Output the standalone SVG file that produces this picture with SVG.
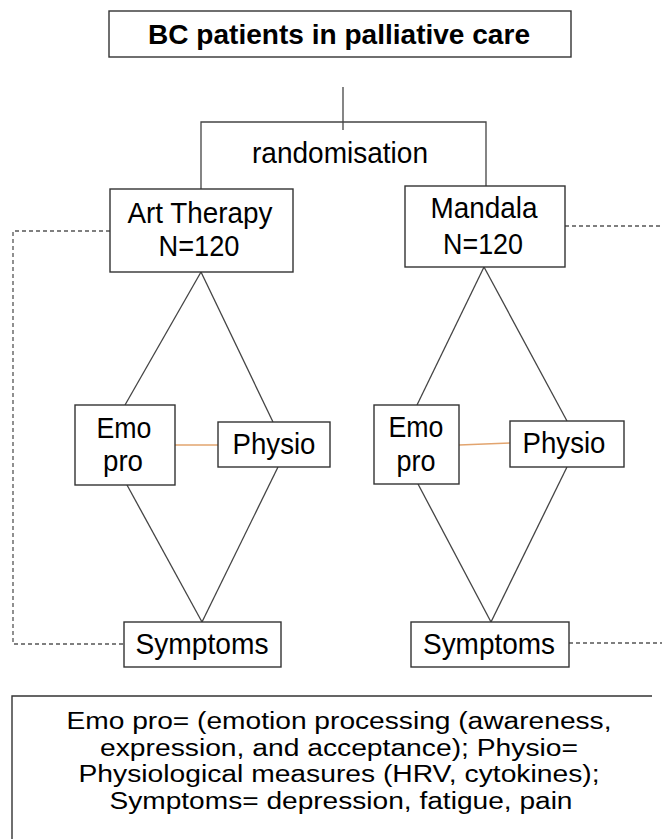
<svg xmlns="http://www.w3.org/2000/svg" width="662" height="839" viewBox="0 0 662 839">
<style>
.box{fill:#fff;stroke:#333;stroke-width:1.4}
.ln{stroke:#444;stroke-width:1.3;fill:none}
.dash{stroke:#555;stroke-width:1.3;fill:none;stroke-dasharray:4 3}
.or{stroke:#e2a46e;stroke-width:1.3;fill:none}
text{font-family:"Liberation Sans",Arial,sans-serif;font-size:29px;fill:#000;text-anchor:middle}
.t{font-weight:bold;font-size:28px}
.lg{font-size:23px}
</style>
<rect width="662" height="839" fill="#fff"/>
<g id="connectors">
<line class="ln" x1="343" y1="87" x2="343" y2="130"/>
<polyline class="ln" points="201,189 201,122 486,122 486,186"/>
<line class="ln" x1="201" y1="272" x2="125" y2="405"/>
<line class="ln" x1="201" y1="272" x2="273" y2="422"/>
<line class="ln" x1="127" y1="485" x2="202" y2="622"/>
<line class="ln" x1="278" y1="467" x2="202" y2="622"/>
<line class="or" x1="175" y1="445" x2="218" y2="445"/>
<line class="ln" x1="484" y1="267" x2="417" y2="405"/>
<line class="ln" x1="484" y1="267" x2="567" y2="421"/>
<line class="ln" x1="418" y1="484" x2="491" y2="622"/>
<line class="ln" x1="567" y1="467" x2="491" y2="622"/>
<line class="or" x1="459" y1="445" x2="510" y2="443"/>
<polyline class="dash" points="110,231 13,231 13,644 124,644"/>
<line class="dash" x1="565" y1="226" x2="662" y2="226"/>
<line class="dash" x1="569" y1="643" x2="662" y2="643"/>
</g>
<g id="title">
<rect class="box" x="109" y="11" width="462" height="46"/>
<text class="t" x="339" y="44" textLength="382" lengthAdjust="spacingAndGlyphs">BC patients in palliative care</text>
</g>
<g id="randomisation">
<text x="340" y="163" textLength="176" lengthAdjust="spacingAndGlyphs">randomisation</text>
</g>
<g id="art-therapy">
<rect class="box" x="110" y="189" width="183" height="83"/>
<text x="200" y="223" textLength="145" lengthAdjust="spacingAndGlyphs">Art Therapy</text>
<text x="199" y="256" textLength="81" lengthAdjust="spacingAndGlyphs">N=120</text>
</g>
<g id="mandala">
<rect class="box" x="405" y="186" width="160" height="81"/>
<text x="484" y="218" textLength="107" lengthAdjust="spacingAndGlyphs">Mandala</text>
<text x="483" y="254" textLength="80" lengthAdjust="spacingAndGlyphs">N=120</text>
</g>
<g id="emo-pro-left">
<rect class="box" x="75" y="405" width="100" height="80"/>
<text x="124" y="438" textLength="55" lengthAdjust="spacingAndGlyphs">Emo</text>
<text x="123" y="471" textLength="40" lengthAdjust="spacingAndGlyphs">pro</text>
</g>
<g id="physio-left">
<rect class="box" x="218" y="422" width="112" height="45"/>
<text x="274" y="454" textLength="83" lengthAdjust="spacingAndGlyphs">Physio</text>
</g>
<g id="emo-pro-right">
<rect class="box" x="374" y="405" width="85" height="79"/>
<text x="416" y="437" textLength="55" lengthAdjust="spacingAndGlyphs">Emo</text>
<text x="416" y="471" textLength="39" lengthAdjust="spacingAndGlyphs">pro</text>
</g>
<g id="physio-right">
<rect class="box" x="510" y="421" width="114" height="46"/>
<text x="564" y="453" textLength="83" lengthAdjust="spacingAndGlyphs">Physio</text>
</g>
<g id="symptoms-left">
<rect class="box" x="124" y="622" width="157" height="45"/>
<text x="202" y="654" textLength="133" lengthAdjust="spacingAndGlyphs">Symptoms</text>
</g>
<g id="symptoms-right">
<rect class="box" x="411" y="622" width="158" height="45"/>
<text x="489" y="654" textLength="132" lengthAdjust="spacingAndGlyphs">Symptoms</text>
</g>
<g id="legend">
<path class="ln" d="M12,845 V696 H652" style="stroke:#333;stroke-width:1.4"/>
<text class="lg" x="339" y="729" textLength="545" lengthAdjust="spacingAndGlyphs">Emo pro= (emotion processing (awareness,</text>
<text class="lg" x="339" y="755.5" textLength="478" lengthAdjust="spacingAndGlyphs">expression, and acceptance); Physio=</text>
<text class="lg" x="339" y="782" textLength="521" lengthAdjust="spacingAndGlyphs">Physiological measures (HRV, cytokines);</text>
<text class="lg" x="341" y="808.5" textLength="463" lengthAdjust="spacingAndGlyphs">Symptoms= depression, fatigue, pain</text>
</g>
</svg>
